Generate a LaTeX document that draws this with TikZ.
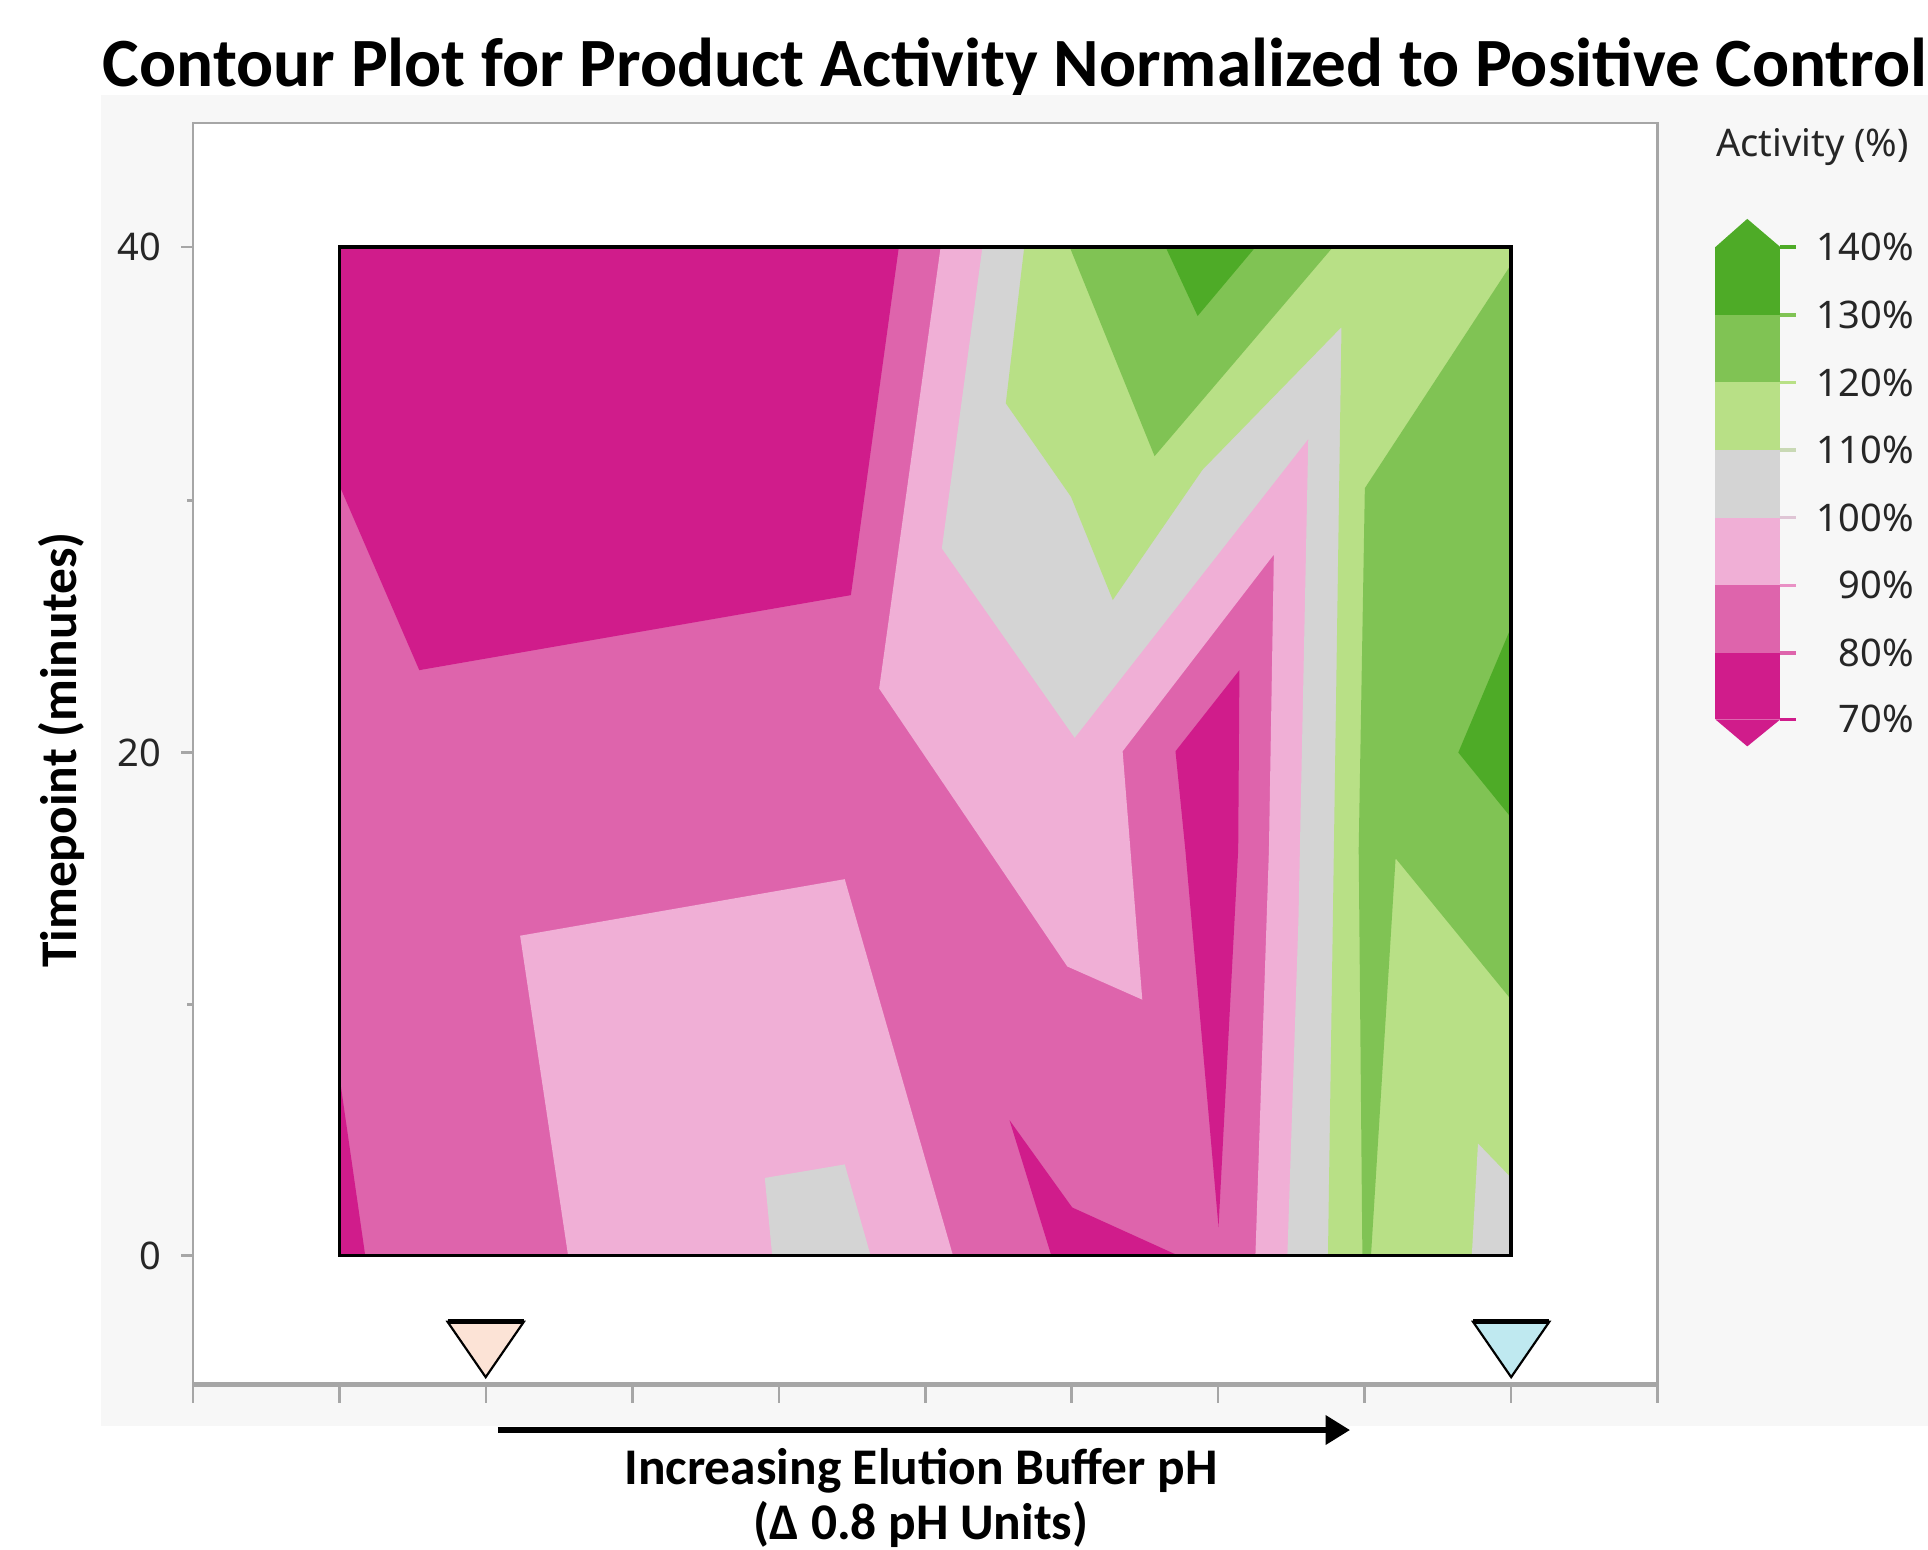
\documentclass[tikz,border=0pt]{standalone}
\usepackage{fontspec}
\setmainfont{Carlito}
\newfontfamily\axisfont{Noto Sans}
\usetikzlibrary{arrows.meta}

\definecolor{c70}{HTML}{D01C8B}
\definecolor{c80}{HTML}{DE64AC}
\definecolor{c90}{HTML}{F0AFD6}
\definecolor{c100}{HTML}{D4D4D4}
\definecolor{c110}{HTML}{B8E086}
\definecolor{c120}{HTML}{80C354}
\definecolor{c130}{HTML}{4EAB27}
\definecolor{panelgray}{HTML}{F7F7F7}
\definecolor{framegray}{HTML}{A6A6A6}
\definecolor{lowph}{HTML}{FCE3D6}
\definecolor{highph}{HTML}{BFE9F0}

\begin{document}
\begin{tikzpicture}[x=0.1mm,y=-0.1mm,
    ticklabel/.style={font=\axisfont\fontsize{8.8}{10}\selectfont, text=black!85, inner sep=0pt},
    axislabel/.style={font=\bfseries\fontsize{11.9}{14}\selectfont, inner sep=0pt},
    phmark/.style={draw=black, line width=0.5pt}]
  \clip (0,0) rectangle (1568,1260);
  \fill[white] (0,0) rectangle (1568,1260);
  \node[anchor=base west, font=\bfseries\fontsize{16}{18}\selectfont, inner sep=0pt] (title) at (83,70)
    {Contour Plot for Product Activity Normalized to Positive Control};
  %%%%%%%%%%%%%%%%%%%%%%%%%%%%%%%%
  \fill[panelgray] (82,77) rectangle (1568,1160);
  \filldraw[fill=white, draw=framegray, line width=0.6pt] (157,100) rectangle (1348,1126);
  \draw[framegray, line width=1.2pt] (157,1126) -- (1348,1126);
  \foreach \i in {0,...,10}
    \draw[framegray, line width=0.6pt] (157+119.1*\i,1126) -- ++(0,15);
  \foreach \yy in {201,612,1021}
    \draw[framegray, line width=0.6pt] (157,\yy) -- ++(-10,0);
  \foreach \yy in {407,817}
    \draw[framegray, line width=0.6pt] (157,\yy) -- ++(-5,0);
  \node[ticklabel, anchor=east] (y40) at (132,201) {40};
  \node[ticklabel, anchor=east] (y20) at (132,612) {20};
  \node[ticklabel, anchor=east] (y0) at (132,1021) {0};
  %%%%%%%%%%%%%%%%%%%%%%%%%%%%%%%%
  % contour bands, lowest level first
  \fill[c80] (276,201) rectangle (1229,1021);
  \fill[c90] (765,201) -- (1229,201) -- (1229,1021) -- (1021,1021) -- (1032,691) -- (1036,451)
    -- (913,611) -- (929,813) -- (868,786) -- (715,560) -- cycle;
  \fill[c100] (799,201) -- (1229,201) -- (1229,1021) -- (1047,1021) -- (1056,748) -- (1064,357)
    -- (874,600) -- (766,446) -- cycle;
  \fill[c110] (833,201) -- (1229,201) -- (1229,1021) -- (1080,1021) -- (1091,266) -- (978,382)
    -- (905,488) -- (871,404) -- (818,328) -- cycle;
  \fill[c100] (1202,930) -- (1229,958) -- (1229,1021) -- (1197,1021) -- cycle;
  \fill[c120] (870,201) -- (1084,201) -- (939,371) -- cycle;
  \fill[c120] (1229,215) -- (1229,813) -- (1135,698) -- (1115,1021) -- (1108,1021) -- (1105,691)
    -- (1110,397) -- cycle;
  \fill[c130] (948,201) -- (1021,201) -- (974,257) -- cycle;
  \fill[c130] (1229,510) -- (1186,612) -- (1229,665) -- cycle;
  \fill[c90] (423,761) -- (687,715) -- (775,1021) -- (462,1021) -- cycle;
  \fill[c100] (622,958) -- (687,947) -- (708,1021) -- (628,1021) -- cycle;
  \fill[c70] (276,201) -- (731,201) -- (692,484) -- (341,545) -- (277,397) -- cycle;
  \fill[c70] (956,611) -- (1008,545) -- (1007,691) -- (991,998) -- (964,691) -- cycle;
  \fill[c70] (821,911) -- (872,982) -- (958,1021) -- (855,1021) -- cycle;
  \fill[c70] (276,875) -- (297,1021) -- (276,1021) -- cycle;
  \draw[line width=0.8pt] (276,201) rectangle (1229,1021);
  %%%%%%%%%%%%%%%%%%%%%%%%%%%%%%%%
  \filldraw[fill=lowph, phmark] (364,1075) -- (426,1075) -- (395,1120) -- cycle;
  \draw[line width=1.2pt] (364,1075) -- (426,1075);
  \filldraw[fill=highph, phmark] (1198,1075) -- (1260,1075) -- (1229,1120) -- cycle;
  \draw[line width=1.2pt] (1198,1075) -- (1260,1075);
  \coordinate (phstart) at (405,1163);
  \coordinate (phend) at (1098,1163);
  \draw[line width=1.5pt, -{Triangle[length=2mm,width=2.3mm]}] (phstart) -- (phend);
  \node[axislabel, anchor=base] (xlab) at (749,1207) {Increasing Elution Buffer pH};
  \node[axislabel, anchor=base] (xunits) at (749,1252) {(Δ 0.8 pH Units)};
  \node[axislabel, rotate=90] (ylab) at (50,610) {Timepoint (minutes)};
  %%%%%%%%%%%%%%%%%%%%%%%%%%%%%%%%
  % legend
  \node[ticklabel, anchor=base west] (legtitle) at (1395,127) {Activity (\%)};
  \fill[c130] (1395,201) -- (1421,178) -- (1448,201) -- cycle;
  \fill[c70] (1395,585) -- (1421,607) -- (1448,585) -- cycle;
  \foreach \col/\top/\bot in {c130/201/256, c120/256/311, c110/311/366, c100/366/421,
                              c90/421/476, c80/476/531, c70/531/585}
    \fill[\col] (1395,\top) rectangle (1448,\bot);
  \foreach \lab/\col/\yy in {140/c130/201, 130/c120/256, 120/c110/311, 110/c100!60!c110/366,
                             100/c100!60!c90/421, 90/c90!60!c80/476, 80/c80/531, 70/c70/585}{
    \draw[\col, line width=0.8pt] (1448,\yy) -- (1461,\yy);
    \node[ticklabel, anchor=east] (leg\lab) at (1557,\yy) {\lab\%};
  }
\end{tikzpicture}
\end{document}
